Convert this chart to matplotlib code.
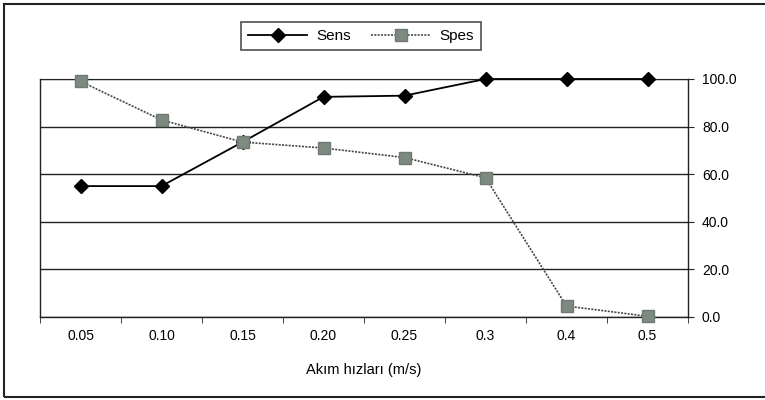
import numpy as np
import matplotlib
matplotlib.use("Agg")
from matplotlib import pyplot as plt
from matplotlib.patches import Rectangle

plt.rcParams['font.family'] = ['Liberation Sans', 'DejaVu Sans']

categories = ["0.05", "0.10", "0.15", "0.20", "0.25", "0.3", "0.4", "0.5"]
sens = [55.0, 55.0, 73.5, 92.5, 93.0, 100.0, 100.0, 100.0]
spes = [99.0, 82.8, 73.5, 71.0, 67.0, 58.5, 4.6, 0.3]

x = np.arange(len(categories))

fig = plt.figure(figsize=(7.65, 4.0), dpi=100)
ax = fig.add_axes([40 / 765, 1 - 317 / 400, 648 / 765, 238 / 400])

# outer frame of the whole picture
fig.patches.append(Rectangle((4 / 765, 3 / 400), 1.2, 393 / 400, transform=fig.transFigure,
                             fill=False, edgecolor='#222222', linewidth=1.5))

ax.plot(x, sens, color='black', linewidth=1.3, marker='D', markersize=7,
        markerfacecolor='black', label='Sens', zorder=3, clip_on=False)
ax.plot(x, spes, color='#444444', linewidth=1.2, linestyle=(0, (1.2, 0.8)),
        marker='s', markersize=8, markerfacecolor='#7d8a80', markeredgecolor='#6f7a72',
        label='Spes', zorder=4, clip_on=False)

ax.set_xlim(-0.5, len(categories) - 0.5)
ax.set_ylim(0, 100)
ax.set_xticks(x)
ax.set_xticklabels(categories, fontsize=10)
ax.set_xticks(np.arange(len(categories) + 1) - 0.5, minor=True)
ax.tick_params(axis='x', which='major', length=0, pad=9)
ax.tick_params(axis='x', which='minor', length=4, direction='out', color='#222222')

ax.yaxis.tick_right()
ax.set_yticks(np.arange(0, 101, 20))
ax.set_yticklabels([f"{v:.1f}" for v in range(0, 101, 20)], fontsize=10)
ax.tick_params(axis='y', length=4, direction='out', pad=6, color='#222222')

ax.grid(axis='y', color='#222222', linewidth=1.0)
for s in ['left', 'right', 'bottom']:
    ax.spines[s].set_color('#222222')
    ax.spines[s].set_linewidth(1.0)
ax.spines['top'].set_color('#222222')

ax.set_xlabel('Akım hızları (m/s)', fontsize=10.5, labelpad=14)

leg = ax.legend(loc='center', bbox_to_anchor=(361 / 765, 1 - 36 / 400), bbox_transform=fig.transFigure,
                ncol=2, frameon=True, fancybox=False, fontsize=11, handlelength=3.9,
                columnspacing=1.3, borderpad=0.45, handletextpad=0.6)
leg.get_frame().set_edgecolor('#222222')
leg.get_frame().set_linewidth(1.2)

fig.savefig('out.png', dpi=100)
